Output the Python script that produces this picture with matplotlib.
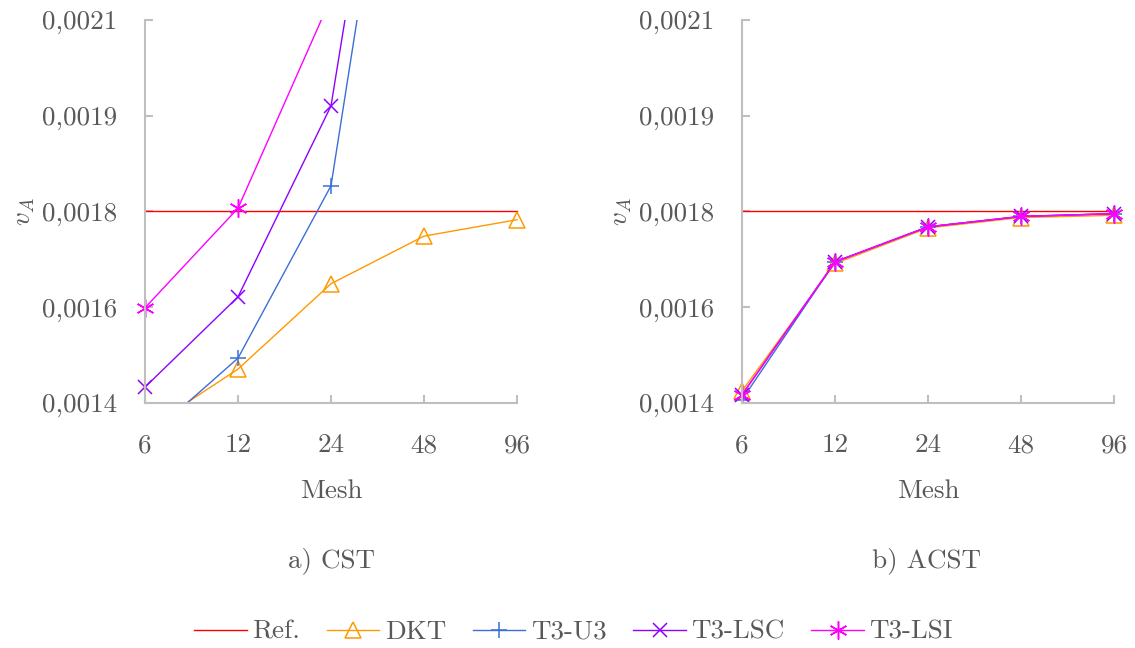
import numpy as np
import matplotlib.pyplot as plt
from matplotlib.transforms import Bbox, TransformedBbox

plt.rcParams['font.family'] = ['cmr10', 'DejaVu Serif']
plt.rcParams['mathtext.fontset'] = 'cm'
plt.rcParams['axes.unicode_minus'] = False
plt.rcParams['font.size'] = 19.5

mesh = ['6', '12', '24', '48', '96']
ref = 0.00175

# a) CST
cst_dkt = [0.00135, 0.001462, 0.001618, 0.001705, 0.001735]
cst_u3 = [0.001332, 0.001482, 0.001797, 0.00288, 0.0032]
cst_lsc = [0.001429, 0.001594, 0.001943, 0.00299, 0.0033]
cst_lsi = [0.001574, 0.001756, 0.00214, 0.0026, 0.0029]

# b) ACST
acst_dkt = [0.001422, 0.001655, 0.001720, 0.001739, 0.001743]
acst_u3 = [0.001406, 0.001658, 0.001722, 0.001741, 0.001746]
acst_lsc = [0.001415, 0.001658, 0.001722, 0.001741, 0.001746]
acst_lsi = [0.001415, 0.001658, 0.001722, 0.001741, 0.001746]

ytick_vals = np.linspace(0.0014, 0.0021, 5)
ytick_labels = ['0,0014', '0,0016', '0,0018', '0,0019', '0,0021']

gray_txt = '#595959'
gray_ax = '#bfbfbf'
styles = [
    ('Ref.', '#ff0000', None, 0),
    ('DKT', '#ff9900', '^', 11),
    ('T3-U3', '#3a6fd8', '+', 12),
    ('T3-LSC', '#8f00ff', 'x', 10),
    ('T3-LSI', '#ff00ff', (6, 2, 0), 13),
]

W, H = 1135, 648
fig = plt.figure(figsize=(W / 100, H / 100), dpi=100)
ax1 = fig.add_axes([145 / W, 1 - 403 / H, 372 / W, 383 / H])
ax2 = fig.add_axes([742 / W, 1 - 403 / H, 372 / W, 383 / H])

x = np.arange(len(mesh))
handles = []
for ax, series, title, cx in [(ax1, [cst_dkt, cst_u3, cst_lsc, cst_lsi], 'a) CST', 331),
                              (ax2, [acst_dkt, acst_u3, acst_lsc, acst_lsi], 'b) ACST', 927)]:
    clip = TransformedBbox(Bbox([[-0.1, 0], [1.1, 1]]), ax.transAxes)
    data = [[ref] * len(mesh)] + series
    handles = []
    for (lab, col, mk, ms), y in zip(styles, data):
        ln, = ax.plot(x, y, color=col, lw=1.0, marker=mk, ms=ms, mew=1.1,
                      mfc='none', label=lab)
        ln.set_clip_box(clip)
        handles.append(ln)
    ax.set_xlim(0, 4)
    ax.set_ylim(0.0014, 0.0021)
    ax.set_xticks(x)
    ax.set_xticklabels(mesh)
    ax.set_yticks(ytick_vals)
    ax.set_yticklabels(ytick_labels)
    for s in ['top', 'right']:
        ax.spines[s].set_visible(False)
    for s in ['left', 'bottom']:
        ax.spines[s].set_color(gray_ax)
        ax.spines[s].set_linewidth(1.5)
    ax.tick_params(axis='x', direction='in', length=6, width=1.5, color=gray_ax,
                   labelcolor=gray_txt, pad=22)
    ax.tick_params(axis='y', direction='in', length=6, width=1.5, color=gray_ax,
                   labelcolor=gray_txt, pad=20)
    ax.set_xlabel('Mesh', color=gray_txt)
    ax.xaxis.set_label_coords(0.5, -0.198)
    ax.set_ylabel('$v_A$', color=gray_txt)
    ax.yaxis.set_label_coords(-0.29, 0.5)
    fig.text(cx / W, 1 - 561 / H, title, ha='center', va='center', color=gray_txt)

fig.legend(handles, [h.get_label() for h in handles], loc='center',
           bbox_to_anchor=(0.5 + 6 / W, 1 - 632 / H), ncol=5, frameon=False,
           handlelength=1.93, handletextpad=0.2, columnspacing=1.0,
           labelcolor=gray_txt)

fig.savefig('out.png', dpi=100)
